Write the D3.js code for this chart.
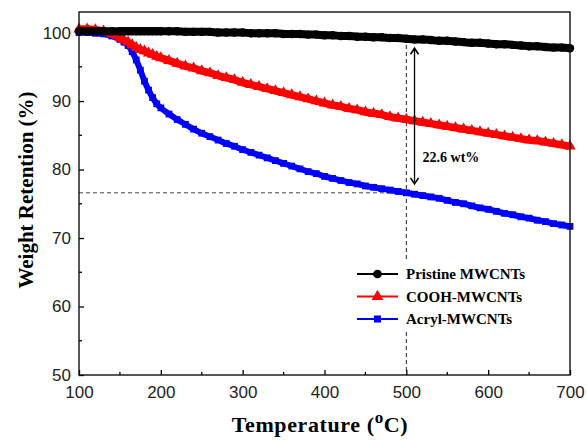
<!DOCTYPE html>
<html>
<head>
<meta charset="utf-8">
<script src="https://cdn.jsdelivr.net/npm/d3@7"></script>
<style>
  body { margin: 0; background: #fff; }
  svg { display: block; }
  .tick text { font-family: "Liberation Sans", Arial, sans-serif; font-size: 17px; fill: #222; }
</style>
</head>
<body>
<div id="chart"></div>
<script>
// temperatures (oC) shared by all three TGA curves
const temps = [100, 110, 120, 130, 140, 150, 155, 160, 165, 170, 175, 180, 185, 190, 195, 200,
  210, 220, 230, 240, 250, 260, 270, 280, 290, 300,
  310, 320, 330, 340, 350, 360, 370, 380, 390, 400,
  410, 420, 430, 440, 450, 460, 470, 480, 490, 500,
  510, 520, 530, 540, 550, 560, 570, 580, 590, 600,
  610, 620, 630, 640, 650, 660, 670, 680, 690, 700];

const pristine = [100.2, 100.2, 100.2, 100.2, 100.2, 100.2, 100.2, 100.2, 100.2, 100.2, 100.2, 100.2, 100.2, 100.2, 100.2, 100.2,
  100.2, 100.2, 100.1, 100.1, 100.1, 100.1, 100.0, 100.0, 100.0, 100.0,
  99.9, 99.9, 99.9, 99.9, 99.8, 99.8, 99.8, 99.7, 99.7, 99.6,
  99.6, 99.5, 99.5, 99.4, 99.4, 99.3, 99.3, 99.2, 99.2, 99.1,
  99.0, 99.0, 98.9, 98.8, 98.8, 98.7, 98.6, 98.5, 98.5, 98.4,
  98.3, 98.3, 98.2, 98.1, 98.0, 98.0, 97.9, 97.8, 97.8, 97.7];

const cooh = [100.5, 100.5, 100.4, 100.2, 99.8, 99.2, 98.9, 98.6, 98.2, 97.8, 97.5, 97.3, 97.0, 96.8, 96.5, 96.3,
  95.9, 95.5, 95.1, 94.8, 94.4, 94.1, 93.7, 93.4, 93.1, 92.7,
  92.4, 92.1, 91.8, 91.5, 91.2, 90.9, 90.6, 90.3, 90.0, 89.7,
  89.4, 89.2, 88.9, 88.7, 88.4, 88.2, 88.0, 87.7, 87.5, 87.3,
  87.1, 86.9, 86.7, 86.5, 86.3, 86.1, 85.9, 85.7, 85.5, 85.3,
  85.1, 84.9, 84.7, 84.5, 84.3, 84.2, 84.0, 83.8, 83.6, 83.4];

const acryl = [100.0, 100.0, 99.9, 99.8, 99.5, 99.0, 98.6, 98.1, 97.2, 96.0, 94.5, 92.9, 91.6, 90.5, 89.6, 89.0,
  88.1, 87.3, 86.6, 85.9, 85.3, 84.8, 84.3, 83.8, 83.4, 82.9,
  82.5, 82.1, 81.7, 81.3, 80.9, 80.5, 80.1, 79.7, 79.4, 79.0,
  78.7, 78.4, 78.1, 77.9, 77.6, 77.4, 77.2, 77.0, 76.8, 76.6,
  76.4, 76.2, 76.0, 75.8, 75.5, 75.2, 75.0, 74.7, 74.4, 74.2,
  73.9, 73.6, 73.4, 73.1, 72.9, 72.6, 72.4, 72.1, 71.9, 71.7];

const seriesNames = ['Pristine MWCNTs', 'COOH-MWCNTs', 'Acryl-MWCNTs'];
const seriesColors = ['#000000', '#ff0000', '#0000ff'];
const xTicks = [100, 200, 300, 400, 500, 600, 700];
const yTicks = [50, 60, 70, 80, 90, 100];

// 22.6 wt% loss marker at 500 oC
const guideT = 500;
const guideTop = 99.2;
const guideV = 76.6;
const arrowT = 510;
const arrowRange = [97.7, 77.9];
const annotation = '22.6 wt%';

const width = 587, height = 440;
const margin = { top: 12, right: 17, bottom: 65, left: 79 };

const x = d3.scaleLinear().domain([100, 700]).range([margin.left, width - margin.right]);
const y = d3.scaleLinear().domain([50, 103]).range([height - margin.bottom, margin.top]);

const svg = d3.select('#chart').append('svg')
  .attr('width', width)
  .attr('height', height);

// dashed guide lines
svg.append('line')
  .attr('x1', x(guideT)).attr('x2', x(guideT))
  .attr('y1', y(guideTop)).attr('y2', y(50))
  .attr('stroke', '#222').attr('stroke-width', 1)
  .attr('stroke-dasharray', '4,3');

svg.append('line')
  .attr('x1', x(100)).attr('x2', x(guideT))
  .attr('y1', y(guideV)).attr('y2', y(guideV))
  .attr('stroke', '#444').attr('stroke-width', 1)
  .attr('stroke-dasharray', '4,3');

const symbols = [d3.symbolCircle, d3.symbolTriangle, d3.symbolSquare];
const symbolSizes = [56, 56, 46];
const lineWidths = [8, 7.5, 6];
const allValues = [pristine, cooh, acryl];

let line = d3.line()
  .x(d => x(d[0]))
  .y(d => y(d[1]))
  .curve(d3.curveMonotoneX);

// draw acryl first so the upper curves sit on top at the start
[2, 1, 0].forEach(function (i) {
  let pts = temps.map((t, j) => [t, allValues[i][j]]);
  let g = svg.append('g');

  g.append('path')
    .attr('d', line(pts))
    .attr('fill', 'none')
    .attr('stroke', seriesColors[i])
    .attr('stroke-width', lineWidths[i]);

  g.selectAll('path.mark')
    .data(pts)
    .enter()
    .append('path')
    .attr('class', 'mark')
    .attr('transform', d => 'translate(' + x(d[0]) + ',' + y(d[1]) + ')')
    .attr('d', d3.symbol().type(symbols[i]).size(symbolSizes[i]))
    .attr('fill', seriesColors[i]);
});

// axes, ticks inward
const xAxis = d3.axisBottom(x).tickValues(xTicks).tickSize(-5).tickPadding(11);
const yAxis = d3.axisLeft(y).tickValues(yTicks).tickSize(-5).tickPadding(8);

svg.append('g')
  .attr('transform', 'translate(0,' + y(50) + ')')
  .call(xAxis)
  .call(g => g.select('.domain').remove())
  .call(g => g.selectAll('line').attr('stroke', '#000').attr('stroke-width', 1.3));

svg.append('g')
  .attr('transform', 'translate(' + x(100) + ',0)')
  .call(yAxis)
  .call(g => g.select('.domain').remove())
  .call(g => g.selectAll('line').attr('stroke', '#000').attr('stroke-width', 1.3));

// minor ticks
const minorX = [150, 250, 350, 450, 550, 650];
const minorY = [55, 65, 75, 85, 95];
svg.append('g').selectAll('line')
  .data(minorX).enter().append('line')
  .attr('x1', d => x(d)).attr('x2', d => x(d))
  .attr('y1', y(50)).attr('y2', y(50) - 3)
  .attr('stroke', '#000').attr('stroke-width', 1.3);
svg.append('g').selectAll('line')
  .data(minorY).enter().append('line')
  .attr('x1', x(100)).attr('x2', x(100) + 3)
  .attr('y1', d => y(d)).attr('y2', d => y(d))
  .attr('stroke', '#000').attr('stroke-width', 1.3);

// frame
svg.append('rect')
  .attr('x', x(100)).attr('y', y(103))
  .attr('width', x(700) - x(100)).attr('height', y(50) - y(103))
  .attr('fill', 'none')
  .attr('stroke', '#111').attr('stroke-width', 1.4);

// double arrow + label
const ax = x(arrowT);
const ay1 = y(arrowRange[0]), ay2 = y(arrowRange[1]);
svg.append('line')
  .attr('x1', ax).attr('x2', ax).attr('y1', ay1).attr('y2', ay2)
  .attr('stroke', '#000').attr('stroke-width', 1.3);
svg.append('path')
  .attr('d', 'M' + (ax - 4) + ',' + (ay1 + 6) + 'L' + ax + ',' + ay1 + 'L' + (ax + 4) + ',' + (ay1 + 6) +
    'M' + (ax - 4) + ',' + (ay2 - 6) + 'L' + ax + ',' + ay2 + 'L' + (ax + 4) + ',' + (ay2 - 6))
  .attr('fill', 'none').attr('stroke', '#000').attr('stroke-width', 1.6);
svg.append('text')
  .attr('x', x(arrowT) + 8)
  .attr('y', y(81.8) + 5)
  .style('font-family', '"Liberation Serif", "Times New Roman", serif')
  .style('font-weight', 'bold')
  .style('font-size', '14px')
  .text(annotation);

// legend
const lg = svg.append('g');
lg.append('rect')
  .attr('x', 350).attr('y', 260).attr('width', 212).attr('height', 70)
  .attr('fill', '#fff');
seriesNames.forEach(function (name, i) {
  let ly = 274 + i * 22.5;
  lg.append('line')
    .attr('x1', 357).attr('x2', 398).attr('y1', ly).attr('y2', ly)
    .attr('stroke', seriesColors[i]).attr('stroke-width', 2);
  lg.append('path')
    .attr('transform', 'translate(377.5,' + ly + ')')
    .attr('d', d3.symbol().type(symbols[i]).size(symbolSizes[i] + 4))
    .attr('fill', seriesColors[i]);
  lg.append('text')
    .attr('x', 406).attr('y', ly + 5)
    .style('font-family', '"Liberation Serif", "Times New Roman", serif')
    .style('font-weight', 'bold')
    .style('font-size', '15px')
    .text(name);
});

// axis titles
svg.append('text')
  .attr('transform', 'translate(33,' + 190 + ') rotate(-90)')
  .attr('text-anchor', 'middle')
  .style('font-family', '"Liberation Serif", "Times New Roman", serif')
  .style('font-weight', 'bold')
  .style('font-size', '21px')
  .text('Weight Retention (%)');

let xt = svg.append('text')
  .attr('x', 320).attr('y', 432)
  .attr('text-anchor', 'middle')
  .style('font-family', '"Liberation Serif", "Times New Roman", serif')
  .style('font-weight', 'bold')
  .style('font-size', '22px')
  .style('letter-spacing', '0.6px');
xt.append('tspan').text('Temperature (');
xt.append('tspan').attr('dy', -9).style('font-size', '17px').text('o');
xt.append('tspan').attr('dy', 9).text('C)');
</script>
</body>
</html>
